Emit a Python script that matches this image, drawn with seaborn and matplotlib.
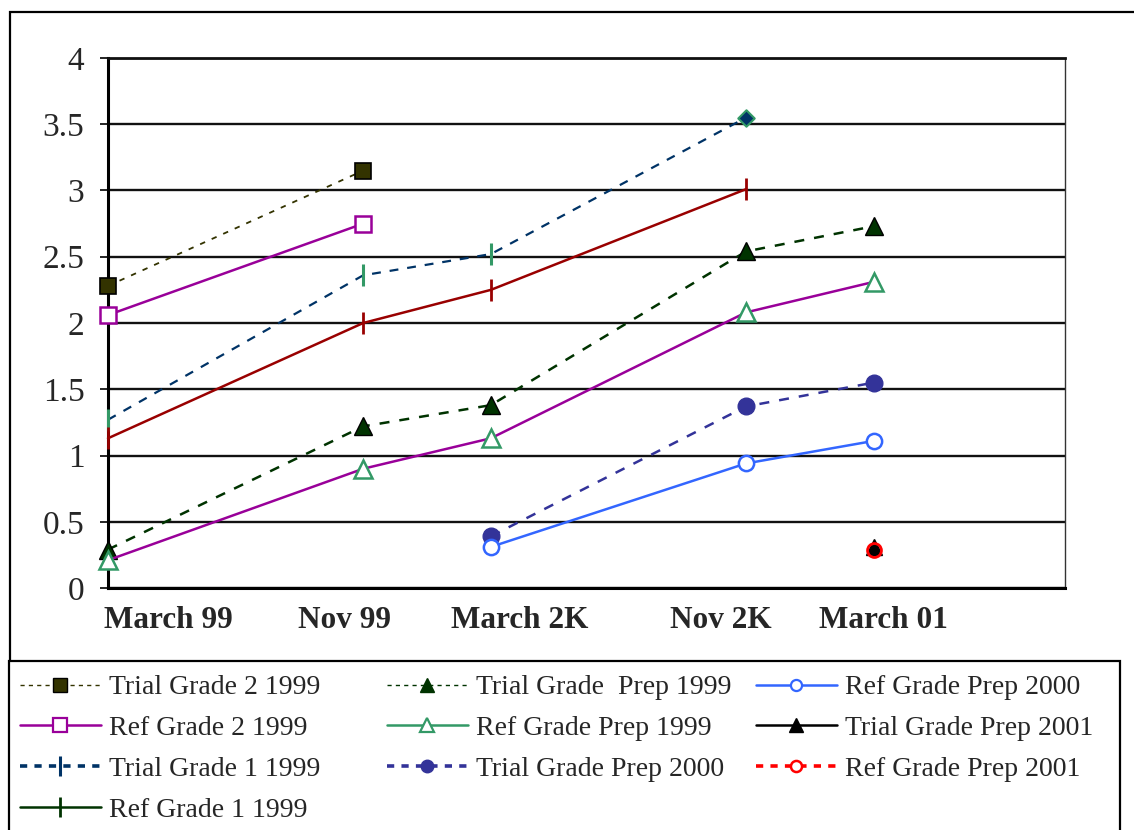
import numpy as np
import pandas as pd
import matplotlib
matplotlib.use("Agg")
import matplotlib.pyplot as plt
from matplotlib.lines import Line2D
from matplotlib.patches import Rectangle
import seaborn as sns

nan = np.nan

# ---- data ----
periods = ["March 99", "Nov 99", "March 2K", "Nov 2K", "March 01"]
months = [0, 8, 12, 20, 24]          # months after March 1999
trial_g2_1999 = [2.28, 3.15, nan, nan, nan]
ref_g2_1999 = [2.06, 2.75, nan, nan, nan]
trial_g1_1999 = [1.27, 2.36, 2.52, 3.55, nan]
ref_g1_1999 = [1.13, 2.00, 2.25, 3.01, nan]
trial_prep_1999 = [0.29, 1.22, 1.38, 2.54, 2.73]
ref_prep_1999 = [0.21, 0.90, 1.13, 2.08, 2.31]
trial_prep_2000 = [nan, nan, 0.39, 1.37, 1.55]
ref_prep_2000 = [nan, nan, 0.31, 0.94, 1.11]
trial_prep_2001 = [nan, nan, nan, nan, 0.31]
ref_prep_2001 = [nan, nan, nan, nan, 0.29]
yticks = [0, 0.5, 1, 1.5, 2, 2.5, 3, 3.5, 4]
ytick_labels = ["0", "0.5", "1", "1.5", "2", "2.5", "3", "3.5", "4"]

# label anchor positions (layout)
label_pos = [1.9, 7.4, 12.9, 19.2, 24.3]

sns.set_style("white")
plt.rcParams["font.family"] = ["Liberation Serif", "DejaVu Serif"]

W, H = 1134, 830
fig = plt.figure(figsize=(W / 100, H / 100), dpi=100)
ax = fig.add_axes([108 / W, 1 - 588 / H, (1065 - 108) / W, (588 - 58) / H])

# outer chart frame
fig.patches.append(Rectangle((10 / W, -0.2), 1.2, 1.2 - 12 / H, transform=fig.transFigure,
                             fill=False, edgecolor="black", lw=1.6, zorder=0))


def draw(vals, **kw):
    d = pd.DataFrame({"month": months, "v": vals}).dropna()
    sns.lineplot(data=d, x="month", y="v", ax=ax, errorbar=None, legend=False,
                 clip_on=False, zorder=5, **kw)


# Trial Grade 2 1999
draw(trial_g2_1999, color="#333300", linestyle=(0, (3, 4)), lw=1.3,
     marker="s", markersize=11, markerfacecolor="#333300", markeredgecolor="black", markeredgewidth=1.2)
# Ref Grade 2 1999
draw(ref_g2_1999, color="#990099", lw=1.8,
     marker="s", markersize=12, markerfacecolor="white", markeredgecolor="#990099", markeredgewidth=1.8)
# Trial Grade 1 1999
draw(trial_g1_1999, color="#003366", linestyle=(0, (4, 4)), lw=1.6,
     marker="|", markersize=16, markeredgecolor="#339966", markeredgewidth=2.2, markevery=[0, 1, 2])
d_last = pd.DataFrame({"month": months, "v": trial_g1_1999}).dropna().iloc[[-1]]
sns.scatterplot(data=d_last, x="month", y="v", ax=ax, marker="D", s=70, color="#003366",
                edgecolor="#339966", linewidth=1.5, zorder=6, legend=False)
# Ref Grade 1 1999
draw(ref_g1_1999, color="#990000", lw=1.8,
     marker="|", markersize=16, markeredgecolor="#990000", markeredgewidth=2.0)
# Trial Grade Prep 1999
draw(trial_prep_1999, color="#003300", linestyle=(0, (4, 4)), lw=1.8,
     marker="^", markersize=13, markerfacecolor="#003300", markeredgecolor="black", markeredgewidth=1.0)
# Ref Grade Prep 1999
draw(ref_prep_1999, color="#990099", lw=1.8,
     marker="^", markersize=13, markerfacecolor="white", markeredgecolor="#339966", markeredgewidth=1.8)
# Trial Grade Prep 2000
draw(trial_prep_2000, color="#333399", linestyle=(0, (4, 4)), lw=1.8,
     marker="o", markersize=12, markerfacecolor="#333399", markeredgecolor="#333399", markeredgewidth=1.0)
# Ref Grade Prep 2000
draw(ref_prep_2000, color="#3366FF", lw=1.8,
     marker="o", markersize=11, markerfacecolor="white", markeredgecolor="#3366FF", markeredgewidth=1.8)
# Trial Grade Prep 2001
draw(trial_prep_2001, color="black", lw=1.8,
     marker="^", markersize=11, markerfacecolor="black", markeredgecolor="black", markeredgewidth=1.0)
# Ref Grade Prep 2001
draw(ref_prep_2001, color="red", linestyle=(0, (2, 2)), lw=2.2,
     marker="o", markersize=10, markerfacecolor="none", markeredgecolor="red", markeredgewidth=2.0)

ax.set_xlim(0, 30)
ax.set_ylim(0, 4)
ax.set_xlabel("")
ax.set_ylabel("")
ax.set_yticks(yticks)
ax.set_yticklabels(ytick_labels)
ax.set_xticks(label_pos)
ax.set_xticklabels(periods, fontweight="bold", fontsize=22.5)
ax.tick_params(axis="x", length=0, pad=13)
ax.tick_params(axis="y", left=True, length=6, width=1.2, direction="out", pad=11,
               labelsize=24, color="black")
ax.yaxis.grid(True, color="#111111", lw=1.7)
ax.xaxis.grid(False)
ax.set_axisbelow(True)
for s in ["left", "bottom"]:
    ax.spines[s].set_color("black")
    ax.spines[s].set_linewidth(2.2)
ax.spines["top"].set_color("#111111")
ax.spines["top"].set_linewidth(2.0)
ax.spines["right"].set_color("#333333")
ax.spines["right"].set_linewidth(1.0)

# legend box
fig.patches.append(Rectangle((9 / W, -0.2), (1120 - 9) / W, 0.2 + 1 - 661 / H,
                             transform=fig.transFigure, facecolor="white",
                             edgecolor="black", lw=1.6, zorder=1))

names = ["Trial Grade 2 1999", "Ref Grade 2 1999", "Trial Grade 1 1999", "Ref Grade 1 1999",
         "Trial Grade  Prep 1999", "Ref Grade Prep 1999", "Trial Grade Prep 2000",
         "Ref Grade Prep 2000", "Trial Grade Prep 2001", "Ref Grade Prep 2001"]
handles = [
    Line2D([], [], color="#333300", ls=(0, (3, 3)), lw=1.0, marker="s", ms=10, mfc="#333300", mec="black"),
    Line2D([], [], color="#990099", lw=1.8, marker="s", ms=10, mfc="white", mec="#990099", mew=1.6),
    Line2D([], [], color="#003366", ls=(0, (2, 2)), lw=2.6, marker="|", ms=14, mec="#003366", mew=2.2),
    Line2D([], [], color="#003300", lw=1.8, marker="|", ms=14, mec="#003300", mew=2.0),
    Line2D([], [], color="#003300", ls=(0, (3, 3)), lw=1.0, marker="^", ms=10, mfc="#003300", mec="#003300"),
    Line2D([], [], color="#339966", lw=1.8, marker="^", ms=10, mfc="white", mec="#339966", mew=1.6),
    Line2D([], [], color="#333399", ls=(0, (2, 2)), lw=2.6, marker="o", ms=9, mfc="#333399", mec="#333399"),
    Line2D([], [], color="#3366FF", lw=1.8, marker="o", ms=8, mfc="white", mec="#3366FF", mew=1.6),
    Line2D([], [], color="black", lw=1.8, marker="^", ms=10, mfc="black", mec="black"),
    Line2D([], [], color="red", ls=(0, (2, 2)), lw=2.6, marker="o", ms=8, mfc="white", mec="red", mew=1.8),
]
cols = [(0, 4, 20), (4, 7, 387), (7, 10, 756)]
for a, b, xpx in cols:
    leg = fig.legend(handles[a:b], names[a:b], loc="upper left",
                     bbox_to_anchor=(xpx / W, 1 - 675 / H), bbox_transform=fig.transFigure,
                     frameon=False, fontsize=20, handlelength=2.9, handletextpad=0.3,
                     labelspacing=0.55, borderpad=0, borderaxespad=0)
    leg.set_zorder(3)

fig.savefig("out.png", dpi=100)
